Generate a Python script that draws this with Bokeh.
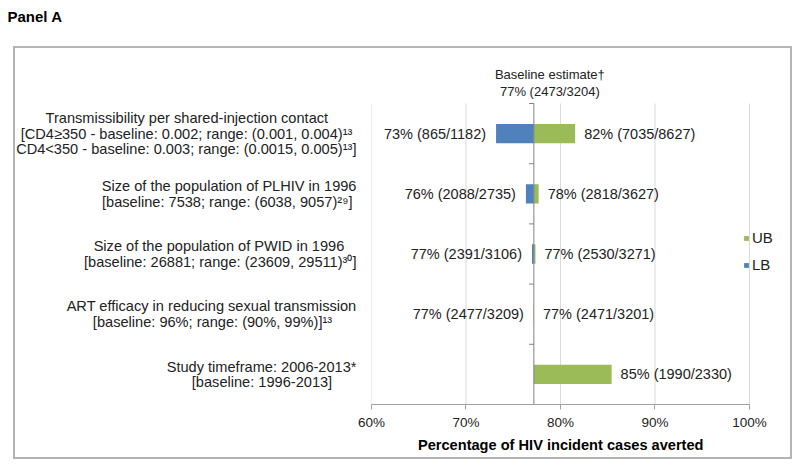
from bokeh.plotting import figure
from bokeh.models import (ColumnDataSource, Legend, LegendItem, FixedTicker, Title,
                          InlineStyleSheet)
from bokeh.core.properties import value
from bokeh.embed import file_html
from bokeh.resources import INLINE

# ---------------- data ----------------
panel_title = "Panel A"
categories = [
    ["Transmissibility per shared-injection contact",
     "[CD4\u2265350 - baseline: 0.002; range: (0.001, 0.004)\u00b9\u00b3",
     "CD4<350 - baseline: 0.003; range: (0.0015, 0.005)\u00b9\u00b3]"],
    ["Size of the population of PLHIV in 1996",
     "[baseline: 7538; range: (6038, 9057)\u00b2\u2079]"],
    ["Size of the population of PWID in 1996",
     "[baseline: 26881; range: (23609, 29511)\u00b3\u2070]"],
    ["ART efficacy in reducing sexual transmission",
     "[baseline: 96%; range: (90%, 99%)]\u00b9\u00b3"],
    ["Study timeframe: 2006-2013*",
     "[baseline: 1996-2013]"],
]
baseline = 77.18
baseline_lines = ["Baseline estimate\u2020", "77% (2473/3204)"]
lb_values = [73.18, 76.34, 76.98, 77.19, None]
ub_values = [81.55, 77.69, 77.35, 77.19, 85.41]
lb_labels = ["73% (865/1182)", "76% (2088/2735)", "77% (2391/3106)", "77% (2477/3209)", ""]
ub_labels = ["82% (7035/8627)", "78% (2818/3627)", "77% (2530/3271)", "77% (2471/3201)", "85% (1990/2330)"]
x_ticks = [60, 70, 80, 90, 100]
x_tick_labels = ["60%", "70%", "80%", "90%", "100%"]
x_title = "Percentage of HIV incident cases averted"
series_names = ["UB", "LB"]

# ---------------- style ----------------
GREEN = "#9BBB59"
BLUE = "#4F81BD"
FONT = "Liberation Sans"
TXT = "#222222"
NB = "\u00a0"
# trailing no-break spaces that centre the lines of each right-aligned category label
label_pads = [[7, 1, 0], [0, 1], [3, 0], [0, 6], [0, 6]]
title_pad = 10          # shifts the axis title to the centre of the 60-100 % span

n = len(categories)
rows = [n - 1 - i for i in range(n)]          # top category first
y_lo, y_hi = -0.5, n - 0.5
cat_text = ["\n".join(line + NB * k for line, k in zip(lines, pads))
            for lines, pads in zip(categories, label_pads)]

box_css = InlineStyleSheet(css="""
:host { position: relative; }
:host::after {
  content: ""; position: absolute; left: 13px; top: 46px; width: 779px; height: 413px;
  box-sizing: border-box; border: 2px solid #b4b4b4; pointer-events: none;
}
""")

# frame: x 371..790 px, y 26..404 px (category rows occupy 103..404)
p = figure(width=796, height=462, x_range=(60, 104.34), y_range=(y_lo, y_hi + 1.279),
           output_backend="svg", toolbar_location=None,
           min_border_left=371, min_border_right=6, min_border_top=26,
           min_border_bottom=58, stylesheets=[box_css])
p.outline_line_color = None
p.xgrid.visible = False
p.ygrid.visible = False

# vertical gridlines over the category area only
p.segment(x0=x_ticks, x1=x_ticks, y0=[y_lo] * len(x_ticks), y1=[y_hi] * len(x_ticks),
          line_color="#d9d9d9", line_width=1)

# x axis
ax = p.xaxis[0]
ax.ticker = FixedTicker(ticks=x_ticks)
ax.bounds = (x_ticks[0], x_ticks[-1])
ax.major_label_overrides = {t: l for t, l in zip(x_ticks, x_tick_labels)}
ax.axis_line_color = "#a0a0a0"
ax.major_tick_line_color = "#a0a0a0"
ax.major_tick_in = 0
ax.major_tick_out = 5
ax.minor_tick_line_color = None
ax.major_label_text_font = FONT
ax.major_label_text_font_size = "13.5px"
ax.major_label_text_color = TXT
ax.axis_label = x_title + NB * title_pad
ax.axis_label_text_font = FONT
ax.axis_label_text_font_style = "bold"
ax.axis_label_text_font_size = "14.6px"
ax.axis_label_text_color = "#000000"
ax.axis_label_standoff = 4

# y axis: category labels
ay = p.yaxis[0]
ay.ticker = FixedTicker(ticks=rows)
ay.major_label_overrides = {r: c for r, c in zip(rows, cat_text)}
ay.axis_line_color = None
ay.major_tick_line_color = None
ay.minor_tick_line_color = None
ay.major_label_standoff = 9
ay.major_label_text_font = FONT
ay.major_label_text_font_size = "14.6px"
ay.major_label_text_color = TXT
ay.major_label_text_line_height = 0.97

# bars
lb_rows = [r for r, v in zip(rows, lb_values) if v is not None]
lb_vals = [v for v in lb_values if v is not None]
lb_src = ColumnDataSource(dict(y=lb_rows, left=[min(v, baseline) for v in lb_vals],
                               right=[max(v, baseline) for v in lb_vals]))
ub_src = ColumnDataSource(dict(y=rows, left=[min(v, baseline) for v in ub_values],
                               right=[max(v, baseline) for v in ub_values]))
r_lb = p.hbar(y="y", left="left", right="right", height=0.32, source=lb_src,
              fill_color=BLUE, line_color=None)
r_ub = p.hbar(y="y", left="left", right="right", height=0.32, source=ub_src,
              fill_color=GREEN, line_color=None)

# central category axis at the baseline, with ticks between categories
p.segment(x0=[baseline], x1=[baseline], y0=[y_lo], y1=[y_hi], line_color="#808080", line_width=1)
bounds_y = [r + 0.5 for r in range(n)]
p.segment(x0=[baseline - 0.5] * n, x1=[baseline] * n, y0=bounds_y, y1=bounds_y,
          line_color="#808080", line_width=1)

# baseline estimate annotation above the central axis
p.text(x=[baseline, baseline], y=[y_hi, y_hi], text=baseline_lines,
       x_offset=16, y_offset=[-29, -12], text_align="center", text_baseline="middle",
       text_font=value(FONT), text_font_size="13px", text_color=TXT)

# value labels
lbl_src_l = ColumnDataSource(dict(x=[v if v is not None else baseline for v in lb_values],
                                  y=rows, t=lb_labels))
lbl_src_u = ColumnDataSource(dict(x=ub_values, y=rows, t=ub_labels))
p.text(x="x", y="y", text="t", source=lbl_src_l, x_offset=-10, text_align="right",
       text_baseline="middle", text_font=value(FONT), text_font_size="14.5px",
       text_color=TXT)
p.text(x="x", y="y", text="t", source=lbl_src_u, x_offset=9, text_align="left",
       text_baseline="middle", text_font=value(FONT), text_font_size="14.5px",
       text_color=TXT)

# panel title
p.title.visible = False
p.add_layout(Title(text=panel_title, align="left", offset=-364, standoff=4,
                   text_font=FONT, text_font_size="15px", text_font_style="bold",
                   text_color="#000000"), "above")

legend = Legend(items=[LegendItem(label=series_names[0], renderers=[r_ub]),
                       LegendItem(label=series_names[1], renderers=[r_lb])],
                location=(372, 131), orientation="vertical",
                glyph_width=6, glyph_height=6, label_standoff=3, spacing=10,
                label_height=13, padding=0, margin=0,
                border_line_alpha=0, background_fill_alpha=0,
                label_text_font=FONT, label_text_font_size="15px",
                label_text_color=TXT)
p.add_layout(legend)

open("out.html", "w").write(file_html(p, INLINE))
